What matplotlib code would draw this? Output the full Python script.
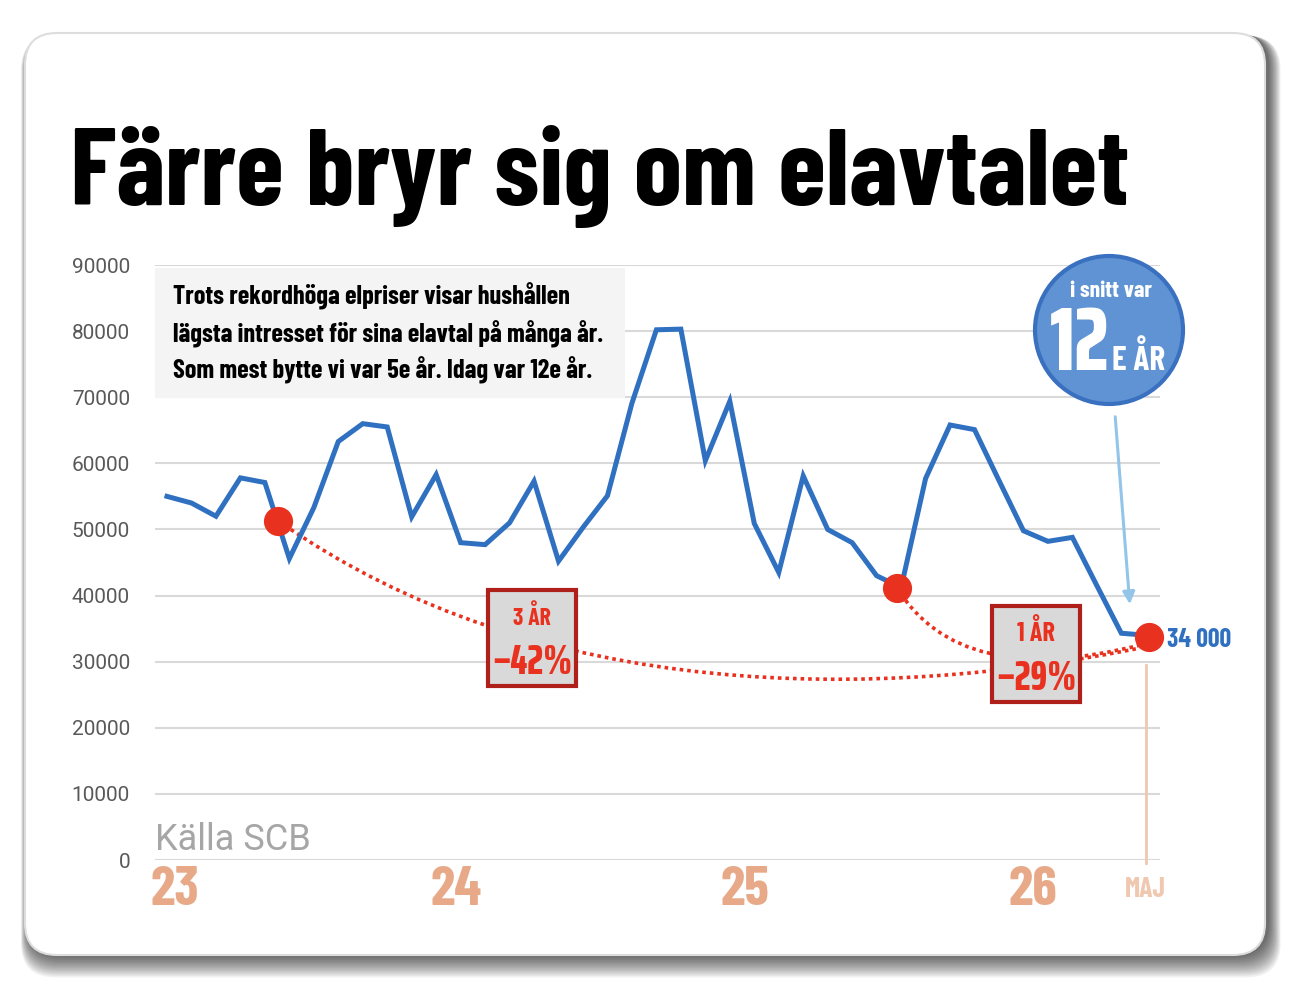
import matplotlib.pyplot as plt
from matplotlib.patches import FancyBboxPatch, Rectangle, Circle, PathPatch
from matplotlib.path import Path
from matplotlib.transforms import IdentityTransform, blended_transform_factory

# monthly values, jan 2023 .. maj 2026
values = [55000, 54000, 52000, 57800, 57100, 45600, 53300, 63300, 66000, 65500,
          51900, 58300, 48000, 47700, 51000, 57300, 45200, 50300, 55100, 69100,
          80200, 80300, 60400, 69400, 50900, 43500, 58100, 50000, 48000, 43000,
          41200, 57700, 65800, 65100, 57400, 49800, 48200, 48800, 41500, 34300,
          34000]
months = list(range(len(values)))
year_pos = [0.3, 11.8, 23.6, 35.4]
year_labels = ['23', '24', '25', '26']
last_label = '34 000'
yticks = [0, 10000, 20000, 30000, 40000, 50000, 60000, 70000, 80000, 90000]
dots_x = [4.55, 29.83, 40.15]
dots_y = [51300, 41150, 33700]
info_lines = ['Trots rekordhöga elpriser visar hushållen',
              'lägsta intresset för sina elavtal på många år.',
              'Som mest bytte vi var 5e år. Idag var 12e år.']

cond = ['Barlow Condensed', 'Roboto Condensed', 'DejaVu Sans']
xcond = ['Saira ExtraCondensed', 'Barlow Condensed', 'DejaVu Sans']
blue = '#3070c0'
red = '#e8321f'
peach = '#e8a988'

fig = plt.figure(figsize=(13.12, 9.9), dpi=100)
fig.patch.set_facecolor('white')
px = IdentityTransform()
H = 990
renderer = fig.canvas.get_renderer()


def fit(t, width_px):
    w = t.get_window_extent(renderer).width
    t.set_fontsize(t.get_fontsize() * width_px / w)
    return t


# card with soft shadow
for i in range(14, 0, -1):
    fig.patches.append(FancyBboxPatch((25 - i * 0.5 + 3, H - 955 - i * 1.6), 1240 + i * 1.4, 922 + i * 1.4,
                                      boxstyle='round,pad=0,rounding_size=34',
                                      transform=px, facecolor='black', edgecolor='none',
                                      alpha=0.055, zorder=-5))
fig.patches.append(FancyBboxPatch((25, H - 955), 1240, 922,
                                  boxstyle='round,pad=0,rounding_size=32',
                                  transform=px, facecolor='white', edgecolor='#dddddd',
                                  linewidth=1.5, zorder=-4))

title = fig.text(70 / 1312, (H - 205) / H, 'Färre bryr sig om elavtalet', family=cond,
                 fontweight='bold', fontsize=80, color='black', va='baseline', ha='left')
fit(title, 1060)

ax = fig.add_axes([155 / 1312, (H - 860) / H, 1005 / 1312, 595 / H])
ax.set_facecolor('none')
ax.set_xlim(-0.49, 40.58)
ax.set_ylim(0, 90000)
for s in ax.spines.values():
    s.set_visible(False)
ax.set_yticks(yticks)
ax.set_yticklabels([str(v) for v in yticks], family='Roboto', fontsize=15, color='#595959')
ax.tick_params(axis='y', length=0, pad=18)
ax.set_xticks([])
ax.grid(axis='y', color='#d9d9d9', linewidth=1.5)
ax.set_axisbelow(True)

# text box
ax.add_patch(Rectangle((155, H - 398), 470, 130, transform=px, facecolor='#f4f4f4',
                       edgecolor='none', zorder=1))
info = [fig.text(173 / 1312, (H - b) / H, s, family=cond, fontweight='bold', fontsize=20,
                 color='black', va='baseline', ha='left')
        for s, b in zip(info_lines, [305, 342, 378])]
fit(info[1], 429)
for t in info:
    t.set_fontsize(info[1].get_fontsize())

ax.plot(months, values, color=blue, linewidth=3.6, solid_joinstyle='miter', zorder=3)

# dotted trend curves
trend1 = Path([(dots_x[0], dots_y[0]), (15.24, 23450), (29.14, 24200), (39.76, 32060)],
              [Path.MOVETO, Path.CURVE4, Path.CURVE4, Path.CURVE4])
trend2 = Path([(dots_x[1], dots_y[1]), (32.4, 25700), (39.76, 32500)],
              [Path.MOVETO, Path.CURVE3, Path.CURVE3])
for p in (trend1, trend2):
    ax.add_patch(PathPatch(p, facecolor='none', edgecolor=red, linewidth=2.6,
                           linestyle=(0, (1, 1.1)), zorder=2))

ax.plot(dots_x, dots_y, 'o', color=red, markersize=20, zorder=4, clip_on=False)
lab = ax.text(dots_x[2] + 0.72, 33300, last_label, family=cond, fontweight='bold',
              fontsize=22, color=blue, va='center', ha='left')
fit(lab, 64)

# vertical marker for the latest month
ax.plot([40, 40], [29500, -400], color='#f0c8b0', linewidth=2, clip_on=False, zorder=1)

# x labels
tr = blended_transform_factory(ax.transData, ax.transAxes)
for xp, s in zip(year_pos, year_labels):
    ax.text(xp, -0.01, s, transform=tr, family=cond, fontweight='bold', fontsize=40,
            color=peach, ha='center', va='top')
ax.text(40, -0.028, 'MAJ', transform=tr, family=cond, fontweight='bold', fontsize=20,
        color='#f0c8b0', ha='center', va='top')

fig.text(155 / 1312, (H - 850) / H, 'Källa SCB', family='Roboto', fontsize=26,
         color='#a6a6a6', va='baseline', ha='left')

# change boxes
boxes = [((488, 590), '3 ÅR', '–42%'), ((992, 606), '1 ÅR', '–29%')]
for (bx, by), top, big in boxes:
    fig.patches.append(Rectangle((bx, H - by - 96), 88, 96, transform=px,
                                 facecolor='#d9d9d9', edgecolor='#b0201a',
                                 linewidth=3, zorder=6))
    t1 = fig.text((bx + 44) / 1312, (H - by - 35) / H, top, family=cond, fontweight='bold',
                  fontsize=20, color=red, ha='center', va='baseline', zorder=7)
    fit(t1, 38)
    t2 = fig.text((bx + 44) / 1312, (H - by - 84) / H, big, family=xcond, fontweight=800,
                  fontsize=33, color=red, ha='center', va='baseline', zorder=7)
    fit(t2, 80)

# bubble
fig.patches.append(Circle((1109, H - 330), 74, transform=px, facecolor='#6093d3',
                          edgecolor='#3a70c0', linewidth=3, zorder=6))
b1 = fig.text(1111 / 1312, (H - 297) / H, 'i snitt var', family=cond, fontweight='bold',
              fontsize=18, color='white', ha='center', va='baseline', zorder=7)
fit(b1, 82)
b2 = fig.text(1050 / 1312, (H - 370) / H, '12', family=xcond, fontweight=800,
              fontsize=60, color='white', ha='left', va='baseline', zorder=7)
fit(b2, 60)
fig.text(1112 / 1312, (H - 370) / H, 'E ÅR', family=cond, fontweight='bold',
         fontsize=24, color='white', ha='left', va='baseline', zorder=7)

ax.annotate('', xy=(1130, H - 607), xytext=(1115, H - 414), xycoords='figure pixels',
            textcoords='figure pixels',
            arrowprops=dict(arrowstyle='-|>', color='#92c5e8', lw=2.2, mutation_scale=18))

fig.savefig('out.png', dpi=100)
